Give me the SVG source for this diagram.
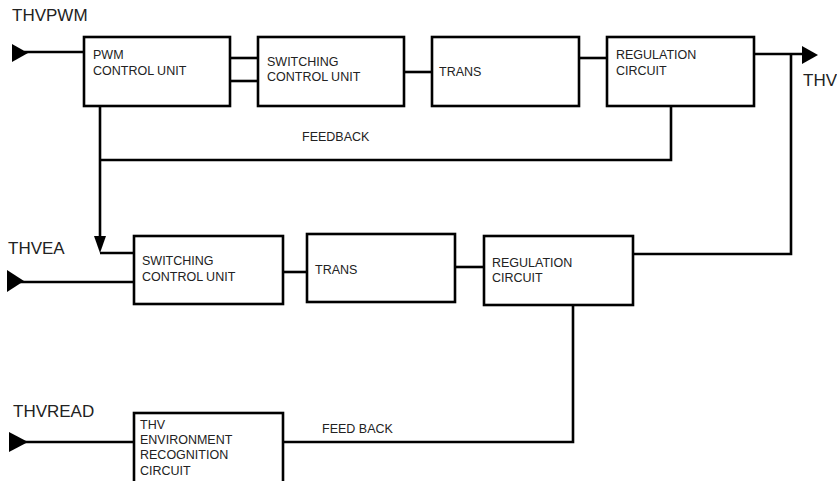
<svg xmlns="http://www.w3.org/2000/svg" width="837" height="481" viewBox="0 0 837 481">
<style>
.box{fill:#fff;stroke:#000;stroke-width:2.6}
.ln{fill:none;stroke:#000;stroke-width:2.6}
.arr{fill:#000;stroke:none}
.t{font-family:"Liberation Sans",Arial,sans-serif;font-size:12.5px;fill:#222}
.big{font-family:"Liberation Sans",Arial,sans-serif;font-size:17px;fill:#222}
</style>
<rect width="837" height="481" fill="#fff"/>
<g id="connectors">
<polyline class="ln" points="24,52 84,52"/>
<polygon class="arr" points="12,44 28,53 12,62"/>
<line class="ln" x1="230" y1="58" x2="258" y2="58"/>
<line class="ln" x1="230" y1="81" x2="258" y2="81"/>
<line class="ln" x1="404" y1="72" x2="432" y2="72"/>
<line class="ln" x1="579" y1="58" x2="607" y2="58"/>
<polyline class="ln" points="754,54 806,54"/>
<polygon class="arr" points="802,46 818,55 802,64"/>
<polyline class="ln" points="791,54 791,254 633,254"/>
<polyline class="ln" points="671,106 671,160 100,160"/>
<polyline class="ln" points="100,106 100,240"/>
<polygon class="arr" points="94,236 106,236 100,253"/>
<polyline class="ln" points="100,253 134,253"/>
<polyline class="ln" points="20,282 134,282"/>
<polygon class="arr" points="7,270 24,281 7,292"/>
<line class="ln" x1="283" y1="272" x2="307" y2="272"/>
<line class="ln" x1="455" y1="267" x2="484" y2="267"/>
<polyline class="ln" points="573,305 573,442 283,442"/>
<polyline class="ln" points="24,442 134,442"/>
<polygon class="arr" points="9,432 28,442 9,452"/>
</g>
<g id="label-thvpwm"><text class="big" x="12" y="21">THVPWM</text></g>
<g id="label-thv"><text class="big" x="803" y="86">THV</text></g>
<g id="label-thvea"><text class="big" x="8" y="254">THVEA</text></g>
<g id="label-thvread"><text class="big" x="13" y="417">THVREAD</text></g>
<g id="label-feedback"><text class="t" x="302" y="141">FEEDBACK</text></g>
<g id="label-feedback2"><text class="t" x="322" y="433">FEED BACK</text></g>
<g id="pwm">
<rect class="box" x="84" y="37" width="146" height="69"/>
<text class="t" x="93" y="59">PWM</text>
<text class="t" x="93" y="75">CONTROL UNIT</text>
</g>
<g id="switch1">
<rect class="box" x="258" y="37" width="146" height="69"/>
<text class="t" x="267" y="66">SWITCHING</text>
<text class="t" x="267" y="81">CONTROL UNIT</text>
</g>
<g id="trans1">
<rect class="box" x="432" y="37" width="147" height="69"/>
<text class="t" x="439" y="76">TRANS</text>
</g>
<g id="reg1">
<rect class="box" x="607" y="37" width="147" height="69"/>
<text class="t" x="616" y="59">REGULATION</text>
<text class="t" x="616" y="75">CIRCUIT</text>
</g>
<g id="switch2">
<rect class="box" x="134" y="236" width="149" height="68"/>
<text class="t" x="142" y="265">SWITCHING</text>
<text class="t" x="142" y="281">CONTROL UNIT</text>
</g>
<g id="trans2">
<rect class="box" x="307" y="234" width="148" height="68"/>
<text class="t" x="315" y="274">TRANS</text>
</g>
<g id="reg2">
<rect class="box" x="484" y="236" width="149" height="69"/>
<text class="t" x="492" y="267">REGULATION</text>
<text class="t" x="492" y="282">CIRCUIT</text>
</g>
<g id="env">
<rect class="box" x="134" y="413" width="149" height="80"/>
<text class="t" x="140" y="429">THV</text>
<text class="t" x="140" y="444">ENVIRONMENT</text>
<text class="t" x="140" y="459">RECOGNITION</text>
<text class="t" x="140" y="475">CIRCUIT</text>
</g>
</svg>
